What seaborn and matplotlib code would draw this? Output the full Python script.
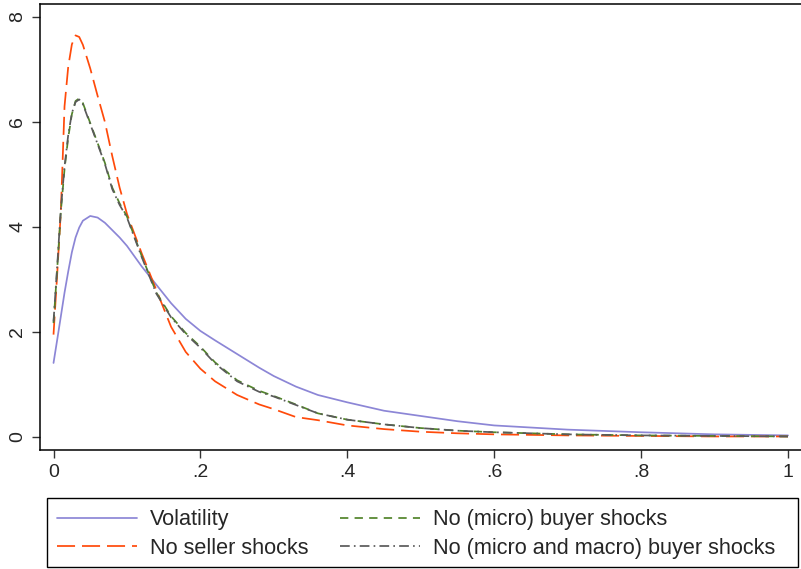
import numpy as np
import pandas as pd
import matplotlib
matplotlib.use("Agg")
import matplotlib.pyplot as plt
from matplotlib.patches import Rectangle
import seaborn as sns

# ---- data ----
x_grid = [0.0, 0.005, 0.01, 0.015, 0.02, 0.025, 0.03, 0.035, 0.04, 0.05, 0.06, 0.07,
          0.08, 0.09, 0.10, 0.12, 0.14, 0.16, 0.18, 0.20, 0.22, 0.25, 0.28, 0.30,
          0.33, 0.36, 0.40, 0.45, 0.50, 0.55, 0.60, 0.70, 0.80, 0.90, 1.00]

volatility = [1.41, 1.85, 2.30, 2.75, 3.15, 3.52, 3.80, 3.99, 4.12, 4.21, 4.18, 4.08,
              3.94, 3.80, 3.64, 3.25, 2.90, 2.55, 2.25, 2.02, 1.84, 1.58, 1.32, 1.16,
              0.96, 0.80, 0.66, 0.50, 0.40, 0.30, 0.22, 0.14, 0.09, 0.05, 0.03]

no_seller = [1.95, 3.10, 4.30, 6.30, 7.05, 7.48, 7.65, 7.62, 7.47, 7.02, 6.50, 6.00,
             5.35, 4.75, 4.25, 3.50, 2.80, 2.10, 1.62, 1.30, 1.06, 0.80, 0.62, 0.53,
             0.38, 0.32, 0.22, 0.15, 0.10, 0.07, 0.05, 0.03, 0.02, 0.01, 0.01]

no_micro_buyer = [2.17, 3.20, 4.30, 5.10, 5.70, 6.15, 6.40, 6.45, 6.36, 5.98, 5.60, 5.22,
                  4.75, 4.45, 4.20, 3.45, 2.75, 2.30, 1.98, 1.72, 1.42, 1.08, 0.88, 0.78,
                  0.62, 0.45, 0.33, 0.24, 0.17, 0.12, 0.09, 0.05, 0.03, 0.02, 0.01]

no_micro_macro_buyer = [2.20, 3.25, 4.35, 5.15, 5.75, 6.17, 6.38, 6.43, 6.34, 5.96, 5.58, 5.20,
                        4.72, 4.42, 4.18, 3.43, 2.73, 2.28, 1.96, 1.70, 1.40, 1.06, 0.86, 0.77,
                        0.61, 0.45, 0.33, 0.24, 0.17, 0.12, 0.09, 0.05, 0.03, 0.02, 0.01]

series_names = ["Volatility", "No seller shocks", "No (micro) buyer shocks",
                "No (micro and macro) buyer shocks"]
x_ticks = [0, 0.2, 0.4, 0.6, 0.8, 1.0]
x_tick_labels = ["0", ".2", ".4", ".6", ".8", "1"]
y_ticks = [0, 2, 4, 6, 8]
y_tick_labels = ["0", "2", "4", "6", "8"]

# ---- styling ----
sns.set_style("ticks")
plt.rcParams["font.family"] = ["Liberation Sans", "DejaVu Sans"]
plt.rcParams["lines.scale_dashes"] = False

colors = ["#8c86d6", "#ff4a0a", "#52842a", "#5a5a5a"]
styles = ["-", (0, (13, 5)), (0, (6, 4.5)), (0, (7, 3, 1.2, 3))]

W, H = 801, 569
df = pd.DataFrame({
    "x": x_grid * 4,
    "y": volatility + no_seller + no_micro_buyer + no_micro_macro_buyer,
    "series": sum([[n] * len(x_grid) for n in series_names], []),
})

fig = plt.figure(figsize=(W / 100, H / 100), dpi=100)
ax = fig.add_axes([40 / W, 1 - 450 / H, 1 - 40 / W, (450 - 4) / H])

for name, col, ls in zip(series_names, colors, styles):
    sub = df[df["series"] == name]
    sns.lineplot(data=sub, x="x", y="y", ax=ax, color=col, linestyle=ls,
                 linewidth=1.25, label=name, legend=False)

ax.set_xlim(-0.0184, 1.0177)
ax.set_ylim(-0.248, 8.248)
ax.set_xticks(x_ticks)
ax.set_xticklabels(x_tick_labels)
ax.set_yticks(y_ticks)
ax.set_yticklabels(y_tick_labels, rotation=90, va="center")
ax.set_xlabel("")
ax.set_ylabel("")
ax.tick_params(axis="both", direction="out", length=6, width=1, labelsize=14,
               color="#333333", pad=4)
ax.spines["right"].set_visible(False)
for s in ["left", "bottom", "top"]:
    ax.spines[s].set_linewidth(1.1)
    ax.spines[s].set_color("black")

# ---- legend ----
leg_fs = 15.6
fs_px = leg_fs * 100 / 72
handle_px = 80
pad_px = 13
handlelength = handle_px / fs_px
handletextpad = pad_px / fs_px

fig.canvas.draw()
renderer = fig.canvas.get_renderer()
tmp = fig.text(0, 0, series_names[1], fontsize=leg_fs)
w1 = tmp.get_window_extent(renderer).width
tmp.remove()
col_sep_px = (340 - 57) - (handle_px + pad_px + w1)
columnspacing = max(col_sep_px, 5) / fs_px

handles, labels = ax.get_legend_handles_labels()
leg = fig.legend(handles, labels,
                 loc="center left", bbox_to_anchor=(57 / W, 1 - 534 / H),
                 ncol=2, fontsize=leg_fs, frameon=False,
                 handlelength=handlelength, handletextpad=handletextpad,
                 columnspacing=columnspacing, labelspacing=0.36,
                 borderpad=0, borderaxespad=0)

fig.patches.append(Rectangle((47 / W, 1 - 567 / H), (798 - 47) / W, (567 - 498) / H,
                             transform=fig.transFigure, fill=False,
                             edgecolor="black", linewidth=1.0))

fig.savefig("out.png", dpi=100)
